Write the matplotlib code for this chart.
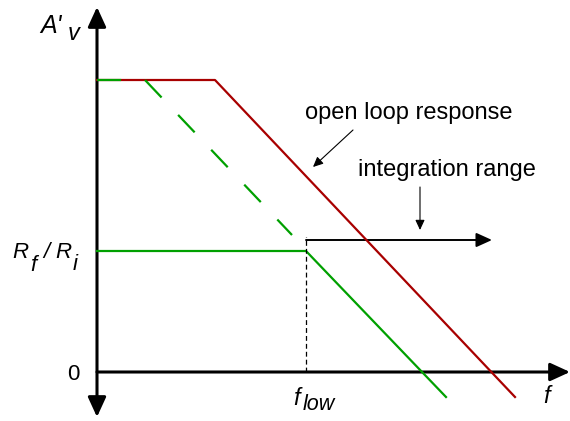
import matplotlib
matplotlib.use('Agg')
import matplotlib.pyplot as plt
from matplotlib.patches import FancyArrowPatch

plt.rcParams['font.family'] = ['Liberation Sans', 'DejaVu Sans']
plt.rcParams['lines.scale_dashes'] = False

# schematic Bode plot, frequency (x) vs gain (y), arbitrary units
open_f = [0, 118, 418]
open_gain = [292, 292, -25]

closed_f = [0, 209, 349]
closed_gain = [121, 121, -25]

# extension of the closed loop slope back up to the open loop gain
asym_f = [0, 48, 195]
asym_gain = [292, 292, 137]

f_low = 209
int_end = 395
int_gain = 132

RED = '#a80000'
GREEN = '#00a000'

fig = plt.figure(figsize=(5.7, 4.21), dpi=100)
ax = fig.add_axes([0, 0, 1, 1])
ax.set_xlim(-97, 473)
ax.set_ylim(-49, 372)
ax.axis('off')


def arrow(p0, p1, style, lw, scale=1, color='black'):
    a = FancyArrowPatch(p0, p1, arrowstyle=style, mutation_scale=scale,
                        lw=lw, color=color, shrinkA=0, shrinkB=0)
    ax.add_patch(a)


def label(x, y, s, size, style='italic'):
    ax.text(x, y, s, fontsize=size, style=style, ha='left', va='baseline')


# axes with arrow heads
arrow((0, -45), (0, 365), '<|-|>,head_length=12,head_width=5.5', 2.2)
arrow((0, 0), (473, 0), '-|>,head_length=12,head_width=5.5', 2.2)

# curves
ax.plot(open_f, open_gain, color=RED, lw=1.6)
ax.plot(asym_f, asym_gain, color=GREEN, lw=1.6, dashes=(17.3, 17.3))
ax.plot(closed_f, closed_gain, color=GREEN, lw=1.6)

# f_low marker and integration range
ax.plot([f_low, f_low], [0, int_gain + 3], color='black', lw=0.9, dashes=(3.5, 2.2))
arrow((f_low, int_gain), (int_end, int_gain), '-|>,head_length=9.5,head_width=4.3', 1.4)

# annotations
ax.text(312, 259, 'open loop response', fontsize=17, ha='center', va='center')
arrow((256, 242), (216, 205), '-|>,head_length=6,head_width=2.8', 0.8)
ax.text(350, 202, 'integration range', fontsize=17, ha='center', va='center')
arrow((323, 185), (323, 142), '-|>,head_length=6,head_width=2.8', 0.8)

# axis labels
label(-57, 339, "A'", 18)
label(-29, 332, 'v', 17)
label(-85, 114, 'R', 16)
label(-67, 101, 'f', 16)
label(-54, 114, '/', 16)
label(-42, 114, 'R', 16)
label(-24, 102, 'i', 16)
ax.text(-17, -8, '0', fontsize=16, ha='right', va='baseline')
label(196, -33, 'f', 17)
label(206, -38, 'low', 15.5)
label(446, -31, 'f', 17)

fig.savefig('out.png', dpi=100)
